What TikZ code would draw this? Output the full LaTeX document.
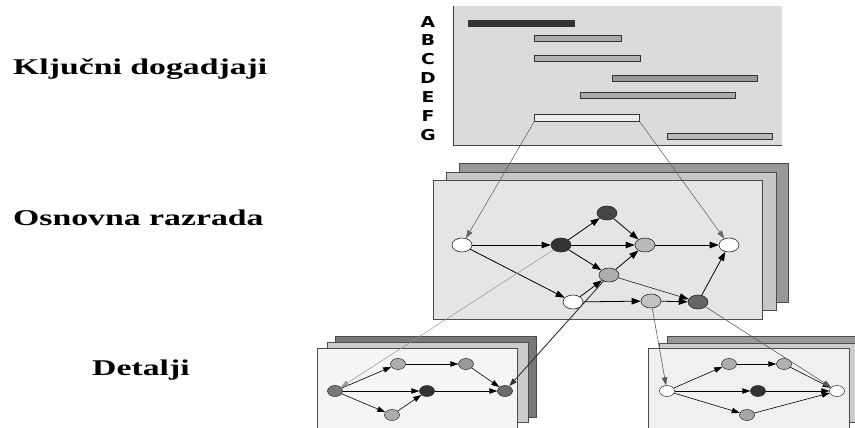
\documentclass[tikz,border=0pt]{standalone}
\usepackage{fontspec}
\setmainfont{Liberation Serif}
\setsansfont{DejaVu Sans}
\usetikzlibrary{shapes.geometric,arrows.meta}
\definecolor{ganttbg}{gray}{0.86}
\definecolor{frameline}{gray}{0.3}
\begin{document}
\begin{tikzpicture}[x=1pt,y=-1pt,
  title/.style={font=\fontsize{22.5}{25}\selectfont\bfseries, anchor=base west, inner sep=0},
  letter/.style={font=\fontsize{15}{17}\sffamily\bfseries, inner sep=0},
  bar/.style={draw=black!80, line width=0.9pt, inner sep=0, anchor=north west},
  panel/.style={draw=frameline, line width=0.5pt},
  mnode/.style={ellipse, draw=black!85, line width=0.6pt, minimum width=20pt, minimum height=14pt, inner sep=0},
  snode/.style={ellipse, draw=black!85, line width=0.5pt, minimum width=15pt, minimum height=11pt, inner sep=0},
  medge/.style={line width=0.8pt, -{Triangle[length=9pt,width=6.5pt]}},
  sedge/.style={line width=0.6pt, -{Triangle[length=8pt,width=5.5pt]}},
  link/.style={line width=0.5pt, draw=black!60, -{Triangle[length=8pt,width=5.5pt]}, fill=black!60}
]
\useasboundingbox (0,0) rectangle (855,428);

% ---------- titles ----------
\node[title] (t1) at (13,74.5) {\scalebox{1.5}[1]{Ključni dogadjaji}};
\node[title] (t2) at (13,225) {\scalebox{1.5}[1]{Osnovna razrada}};
\node[title] (t3) at (92,375) {\scalebox{1.5}[1]{Detalji}};

% ---------- gantt ----------
\fill[ganttbg] (453,6) rectangle (782,145);
\draw[black!75, line width=1pt] (453,6) -- (453,145) -- (782,145);

\foreach \l/\y in {A/22,B/40.5,C/59.5,D/78,E/97,F/116,G/135}{
  \node[letter] (L\l) at (428,\y) {\scalebox{1.25}[1]{\l}};
}

\node[bar, fill=black!80, minimum width=106pt, minimum height=6.5pt] (bA) at (468,20) {};
\node[bar, fill=black!33, minimum width=87pt, minimum height=6.5pt] (bB) at (534,35) {};
\node[bar, fill=black!30, minimum width=106pt, minimum height=6.5pt] (bC) at (534,55) {};
\node[bar, fill=black!40, minimum width=145pt, minimum height=6.5pt] (bD) at (612,75) {};
\node[bar, fill=black!33, minimum width=155pt, minimum height=6.5pt] (bE) at (580,92) {};
\node[bar, fill=black!7, minimum width=105pt, minimum height=7pt] (bF) at (534,114) {};
\node[bar, fill=black!28, minimum width=105pt, minimum height=6pt] (bG) at (667,133) {};

% ---------- middle panel ----------
\filldraw[panel, fill=black!40] (459,163) rectangle (788,302);
\filldraw[panel, fill=black!22] (446,172) rectangle (776,310);
\filldraw[panel, fill=black!10] (433,180) rectangle (762,319);

\node[mnode, fill=white]    (m1) at (462,245) {};
\node[mnode, fill=black!80] (m2) at (561,245) {};
\node[mnode, fill=black!73] (m3) at (607,213) {};
\node[mnode, fill=black!27] (m4) at (645,245) {};
\node[mnode, fill=white]    (m5) at (729,245) {};
\node[mnode, fill=black!32] (m6) at (609,275) {};
\node[mnode, fill=white]    (m7) at (573,302) {};
\node[mnode, fill=black!24] (m8) at (651,301) {};
\node[mnode, fill=black!60] (m9) at (698,302) {};

\draw[medge] (m1) -- (m2);
\draw[medge] (m1) -- (m7);
\draw[medge] (m2) -- (m3);
\draw[medge] (m2) -- (m4);
\draw[medge] (m2) -- (m6);
\draw[medge] (m3) -- (m4);
\draw[medge] (m4) -- (m5);
\draw[medge] (m6) -- (m4);
\draw[medge, line width=0.5pt] (m6) -- (m9);
\draw[medge] (m7) -- (m6);
\draw[medge] (m7) -- (m8);
\draw[medge] (m8) -- (m9);
\draw[medge] (m9) -- (m5);

% ---------- bottom-left panel ----------
\filldraw[panel, fill=black!53] (335,336) rectangle (536,417);
\filldraw[panel, fill=black!20] (327,342) rectangle (528,422);
\filldraw[panel, fill=black!4]  (317,348) rectangle (517,429);

\node[snode, fill=black!53] (la) at (335,391) {};
\node[snode, fill=black!32] (lb) at (398,364) {};
\node[snode, fill=black!40] (lc) at (466,364) {};
\node[snode, fill=black!80] (ld) at (427,391) {};
\node[snode, fill=black!32] (le) at (392,415) {};
\node[snode, fill=black!58] (lf) at (505,391) {};

\draw[sedge] (la) -- (lb);
\draw[sedge] (la) -- (ld);
\draw[sedge] (la) -- (le);
\draw[sedge] (lb) -- (lc);
\draw[sedge] (lc) -- (lf);
\draw[sedge] (ld) -- (lf);
\draw[sedge] (le) -- (ld);

% ---------- bottom-right panel ----------
\filldraw[panel, fill=black!40] (667,336) rectangle (860,417);
\filldraw[panel, fill=black!20] (659,343) rectangle (860,422);
\filldraw[panel, fill=black!6]  (648,348) rectangle (849,429);

\node[snode, fill=white]    (ra) at (667,391) {};
\node[snode, fill=black!32] (rb) at (729,364) {};
\node[snode, fill=black!30] (rc) at (784,364) {};
\node[snode, fill=black!80] (rd) at (758,391) {};
\node[snode, fill=black!35] (re) at (747,415) {};
\node[snode, fill=white]    (rf) at (837,391) {};

\draw[sedge] (ra) -- (rb);
\draw[sedge] (ra) -- (rd);
\draw[sedge] (ra) -- (re);
\draw[sedge] (rb) -- (rc);
\draw[sedge] (rc) -- (rf);
\draw[sedge] (rd) -- (rf);
\draw[sedge] (re) -- (rf);

% ---------- links between levels ----------
\draw[link] (bF.south west) -- (m1);
\draw[link] (bF.south east) -- (m5);
\draw[link, draw=black!40, line width=0.4pt] (m2) -- (la);
\draw[link, draw=black!80, line width=0.9pt] (m6) -- (lf);
\draw[link, draw=black!65] (m8) -- (ra);
\draw[link, draw=black!65] (m9) -- (rf);
\end{tikzpicture}
\end{document}
